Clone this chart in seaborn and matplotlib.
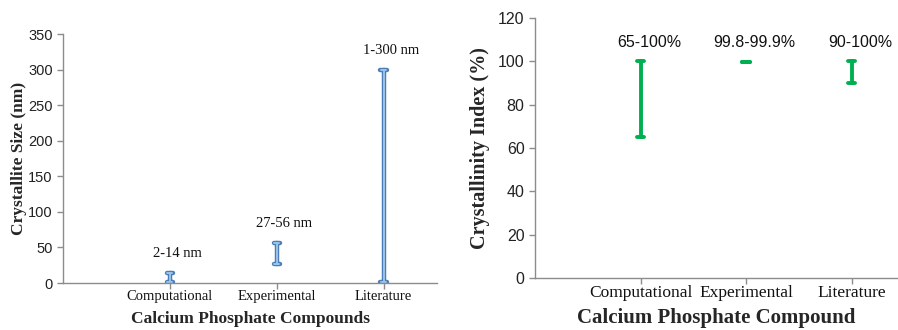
import pandas as pd
import matplotlib
matplotlib.use("Agg")
import matplotlib.pyplot as plt
import seaborn as sns

categories = ["Computational", "Experimental", "Literature"]
size_low = [2, 27, 1]
size_high = [14, 56, 300]
size_labels = ["2-14 nm", "27-56 nm", "1-300 nm"]
cryst_low = [65, 99.8, 90]
cryst_high = [100, 99.9, 100]
cryst_labels = ["65-100%", "99.8-99.9%", "90-100%"]

sns.set_theme(style="white")
serif = ["Liberation Serif", "DejaVu Serif"]
sans = ["Liberation Sans", "DejaVu Sans"]
plt.rcParams["font.family"] = serif

def long_form(low, high):
    return pd.DataFrame({
        "cat": categories * 2,
        "val": list(low) + list(high),
    })

def minmax(x):
    return (x.min(), x.max())

def style_axes(ax, yticks, ylim, xlim, tick_size, lab_size):
    ax.set_ylim(*ylim)
    ax.set_xlim(*xlim)
    ax.set_yticks(yticks)
    for s in ["top", "right"]:
        ax.spines[s].set_visible(False)
    for s in ["left", "bottom"]:
        ax.spines[s].set_color("#8c8c8c")
        ax.spines[s].set_linewidth(1.0)
    ax.tick_params(axis="both", which="both", direction="out", length=4,
                   width=1, color="#8c8c8c", left=True, bottom=True)
    ax.tick_params(axis="x", pad=1)
    for t in ax.get_yticklabels():
        t.set_fontfamily(sans)
        t.set_fontsize(tick_size)
        t.set_color("#222222")
    for t in ax.get_xticklabels():
        t.set_fontfamily(serif)
        t.set_fontsize(lab_size)
        t.set_color("#111111")

fig = plt.figure(figsize=(8.98, 3.30), dpi=100)
ax1 = fig.add_axes([0.0702, 0.1424, 0.4165, 0.7545])
ax2 = fig.add_axes([0.5958, 0.1576, 0.4042, 0.7880])

# left panel: crystallite size ranges
df1 = long_form(size_low, size_high)
sns.pointplot(data=df1, x="cat", y="val", errorbar=minmax, marker="",
              linestyle="none", capsize=0.06, color="#4a7ebb",
              err_kws={"linewidth": 3.2}, ax=ax1)
sns.pointplot(data=df1, x="cat", y="val", errorbar=minmax, marker="",
              linestyle="none", capsize=0.045, color="#9dc3e6",
              err_kws={"linewidth": 1.4}, ax=ax1)
for i, lab in enumerate(size_labels):
    ax1.text(i + 0.07, size_high[i] + 18, lab, ha="center", va="bottom",
             fontsize=10.5, color="#111111")
style_axes(ax1, range(0, 351, 50), (0, 350), (-1, 2.5), 10.5, 10.5)
ax1.set_xlabel("Calcium Phosphate Compounds", fontsize=12.5,
               fontweight="bold", labelpad=6)
ax1.set_ylabel("Crystallite Size (nm)", fontsize=12.5, fontweight="bold",
               labelpad=1)

# right panel: crystallinity index ranges
df2 = long_form(cryst_low, cryst_high)
sns.pointplot(data=df2, x="cat", y="val", errorbar=minmax, marker="",
              linestyle="none", capsize=0.07, color="#00b050",
              err_kws={"linewidth": 2.8}, ax=ax2)
for i, lab in enumerate(cryst_labels):
    ax2.text(i + 0.08, 105, lab, ha="center", va="bottom",
             fontsize=11.5, color="#111111", family=sans)
style_axes(ax2, range(0, 121, 20), (0, 120), (-1, 2.44), 11.5, 12.5)
ax2.set_xlabel("Calcium Phosphate Compound", fontsize=15,
               fontweight="bold", labelpad=5)
ax2.set_ylabel("Crystallinity Index (%)", fontsize=14.5, fontweight="bold",
               labelpad=6)

fig.savefig("out.png", dpi=100)
